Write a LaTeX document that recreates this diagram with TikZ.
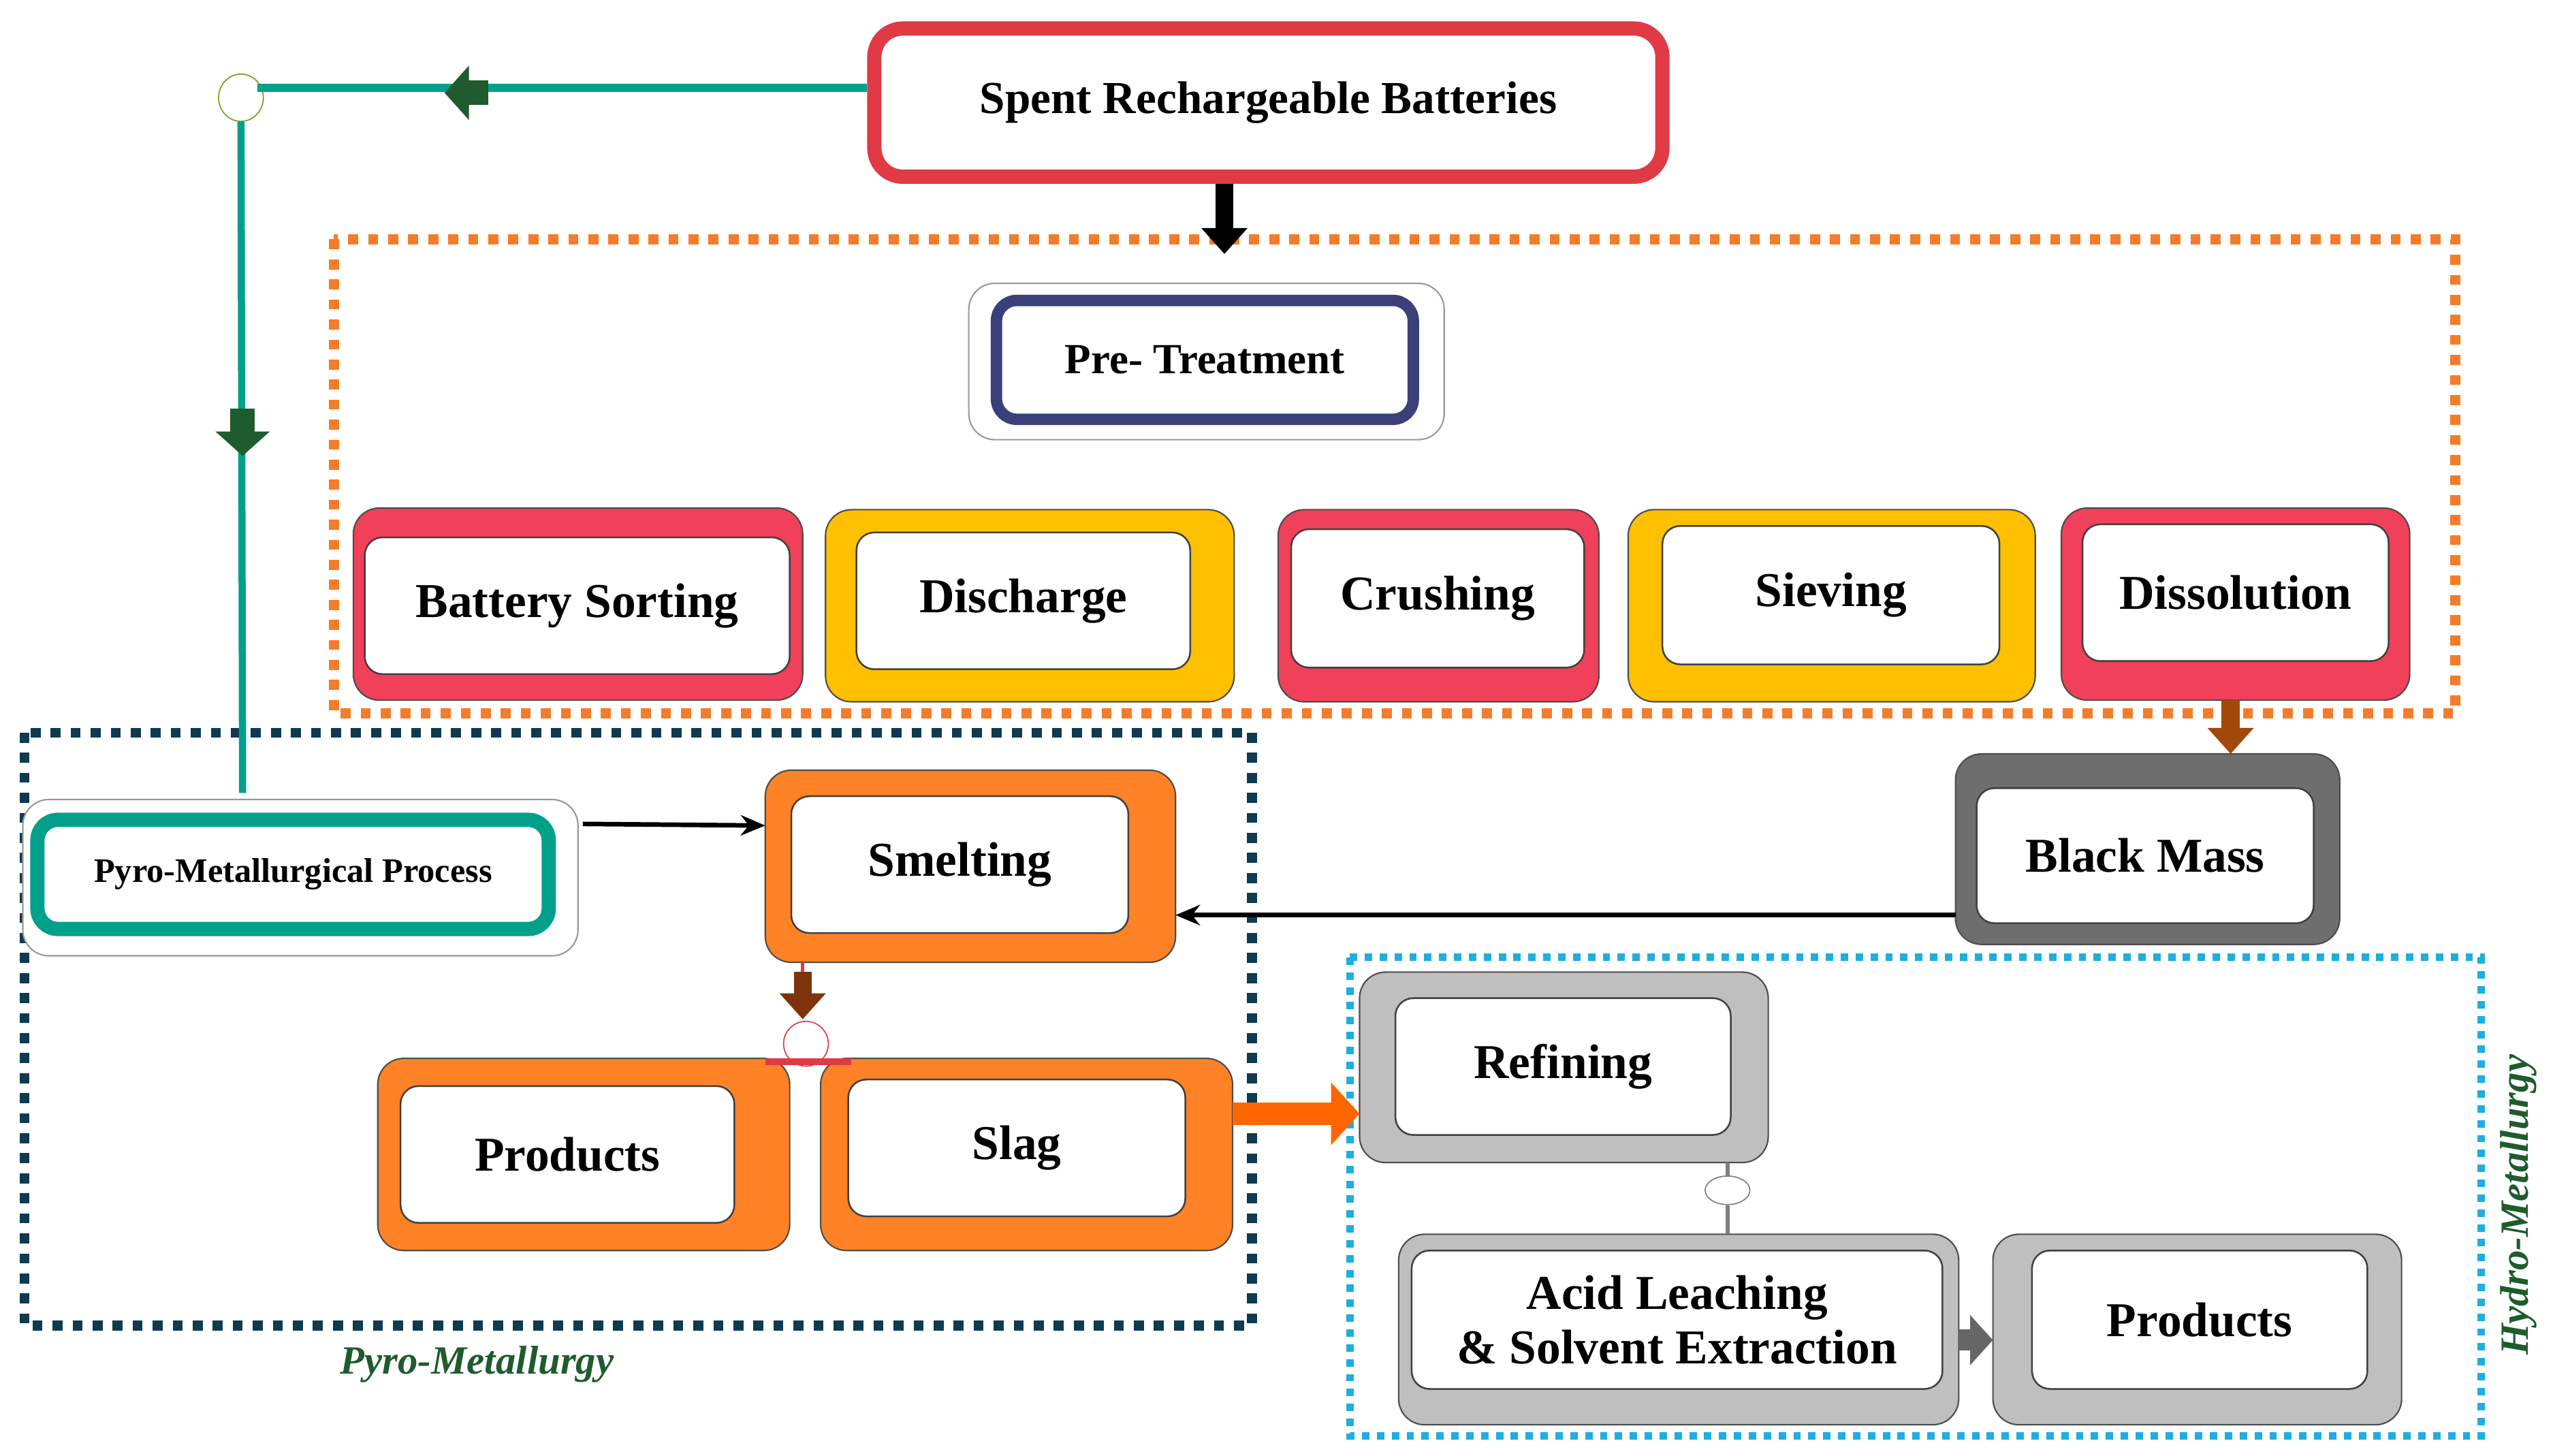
\documentclass[tikz,border=0pt]{standalone}
\usepackage{fontspec}
\setmainfont{Liberation Serif}
\usetikzlibrary{arrows.meta,shapes.geometric}
\definecolor{cred}{HTML}{E03A45}
\definecolor{cpink}{HTML}{F0405A}
\definecolor{cyel}{HTML}{FFC000}
\definecolor{corange}{HTML}{FF8226}
\definecolor{cdgray}{HTML}{6E6E6E}
\definecolor{clgray}{HTML}{BFBFBF}
\definecolor{cteal}{HTML}{00A08A}
\definecolor{cnavy}{HTML}{0E3A52}
\definecolor{ccyan}{HTML}{1EAEE0}
\definecolor{cdorange}{HTML}{F57C29}
\definecolor{cnavybox}{HTML}{3B3F7A}
\definecolor{cdgreen}{HTML}{1E5B2E}
\definecolor{cbrown}{HTML}{8B3A0E}
\newcommand\bx[6]{\node[#6,minimum width={(#4-#2)*0.02cm},minimum height={(#5-#3)*0.02cm}] (#1) at ({(#2+#4)/2},{(#3+#5)/2}) {};}
\newcommand\ibx[7]{\node[inner,minimum width={(#4-#2)*0.02cm},minimum height={(#5-#3)*0.02cm},#6] (#1) at ({(#2+#4)/2},{(#3+#5)/2}) {#7};}
\begin{document}
\begin{tikzpicture}[x=0.02cm,y=-0.02cm,
  outer/.style={draw=black!70,line width=0.5pt,rounded corners=0.32cm,inner sep=0,outer sep=0,fill=#1},
  inner/.style={draw=black!75,line width=0.6pt,fill=white,rounded corners=0.22cm,inner sep=0,outer sep=0,
     font=\fontsize{17}{20}\selectfont\bfseries,align=center},
  blk/.style={line width=0.22cm,-{Triangle[width=0.55cm,length=0.32cm]},#1},
  thin arr/.style={line width=1.6pt,-{Stealth[length=0.3cm,width=0.25cm]}},
  lbl/.style={font=\fontsize{14}{16}\selectfont\bfseries\itshape,text=cdgreen}]
\useasboundingbox (0,0) rectangle (1568,894);
% group frames
\draw[cdorange,line width=3.5pt,dash pattern=on 3.5pt off 3.5pt] (205,147) rectangle (1508,438);
\draw[cnavy,line width=3.5pt,dash pattern=on 3.5pt off 3.5pt] (15,450) rectangle (769,814);
\draw[ccyan,line width=2.6pt,dash pattern=on 2.6pt off 2.6pt] (829,588) rectangle (1524,882);
% top
\node[draw=cred,line width=5pt,rounded corners=0.35cm,minimum width={(1021-537)*0.02cm},minimum height={(109-18)*0.02cm},
  font=\fontsize{16}{20}\selectfont\bfseries,inner sep=0] (srb) at (779,63) {Spent Rechargeable Batteries};
% pre-treatment
\bx{pto}{595}{174}{887}{270}{outer=white,draw=black!40}
\node[draw=cnavybox,line width=4pt,rounded corners=0.25cm,fill=white,minimum width={(868-612)*0.02cm},minimum height={(258-185)*0.02cm},
  font=\fontsize{15}{18}\selectfont\bfseries,inner sep=0] (pt) at (740,221) {Pre- Treatment};
% row of steps
\bx{bso}{217}{312}{493}{430}{outer=cpink}\ibx{bs}{224}{330}{485}{414}{}{Battery Sorting}
\bx{dco}{507}{313}{758}{431}{outer=cyel}\ibx{dc}{526}{327}{731}{411}{}{Discharge}
\bx{cro}{785}{313}{982}{431}{outer=cpink}\ibx{cr}{793}{325}{973}{410}{}{Crushing}
\bx{svo}{1000}{313}{1250}{431}{outer=cyel}\ibx{sv}{1021}{323}{1228}{408}{}{Sieving}
\bx{dso}{1266}{312}{1480}{430}{outer=cpink}\ibx{ds}{1279}{322}{1467}{406}{}{Dissolution}
% black mass
\bx{bmo}{1201}{463}{1437}{580}{outer=cdgray}\ibx{bm}{1214}{484}{1421}{567}{}{Black Mass}
% pyro
\bx{ppo}{14}{491}{355}{587}{outer=white,draw=black!40}
\node[draw=cteal,line width=5pt,rounded corners=0.25cm,fill=white,minimum width={(337-23)*0.02cm},minimum height={(570-503)*0.02cm},
  font=\fontsize{12}{14}\selectfont\bfseries,inner sep=0] (pp) at (180,537) {Pyro-Metallurgical Process};
\bx{smo}{470}{473}{722}{591}{outer=corange}\ibx{sm}{486}{489}{693}{573}{}{Smelting}
\bx{pro}{232}{650}{485}{768}{outer=corange}\ibx{pr}{246}{667}{451}{751}{}{Products}
\bx{slo}{504}{650}{757}{768}{outer=corange}\ibx{sl}{521}{663}{728}{747}{}{Slag}
% hydro
\bx{rfo}{835}{597}{1086}{714}{outer=clgray}\ibx{rf}{857}{613}{1063}{697}{}{Refining}
\bx{alo}{859}{758}{1203}{875}{outer=clgray}\ibx{al}{867}{768}{1193}{853}{}{Acid Leaching\\[-1pt]\& Solvent Extraction}
\bx{p2o}{1224}{758}{1475}{875}{outer=clgray}\ibx{p2}{1248}{768}{1454}{853}{}{Products}
% teal route
\node[draw=cdgreen!60!yellow,fill=white,ellipse,minimum width=0.55cm,minimum height=0.58cm,inner sep=0,line width=0.4pt] (tc) at (148,60) {};
\coordinate (tbot) at (149,487);
\draw[cteal,line width=3pt] (srb.west |- 0,54) -- (tc.north east |- 0,54) ;
\draw[cteal,line width=2.5pt] (tc.south) -- (tbot);
\draw[blk=cdgreen,line width=0.3cm,-{Triangle[width=0.65cm,length=0.3cm]}] (300,57) -- (273,57);
\draw[blk=cdgreen,line width=0.3cm,-{Triangle[width=0.65cm,length=0.3cm]}] (149,251) -- (149,280);
% black arrow srb -> frame
\draw[blk=black] (srb.south -| 752,0) -- (752,156);
% dissolution -> black mass
\draw[blk=cbrown!80!orange] (dso.south -| 1370,0) -- (bmo.north -| 1370,0);
% pyro -> smelting
\draw[thin arr] (358,506) -- (smo.west |- 0,507);
% black mass -> smelting
\draw[thin arr] (bmo.west |- 0,562) -- (smo.east |- 0,562);
% smelting -> split
\node[draw=cred,fill=white,ellipse,minimum width=0.55cm,minimum height=0.55cm,inner sep=0,line width=0.4pt] (sc) at (495,641) {};
\draw[cred,line width=1.2pt] (smo.south -| 493,0) -- (493,600);
\draw[blk=cbrown!90!black] (493,597) -- (493,626);
\draw[cred,line width=2.5pt] (470,652) -- (523,652);
% slag -> refining
\draw[blk=orange!80!red,line width=0.28cm,-{Triangle[width=0.75cm,length=0.35cm]}] (slo.east |- 0,684) -- (rfo.west |- 0,684);
% refining -> acid
\node[draw=gray,fill=white,ellipse,minimum width=0.55cm,minimum height=0.35cm,inner sep=0,line width=0.4pt] (gc) at (1061,731) {};
\draw[gray,line width=1.5pt] (rfo.south -| gc.north) -- (gc.north);
\draw[gray,line width=1.5pt] (gc.south) -- (alo.north -| gc.south);
% acid -> products
\draw[blk=gray!80!black,line width=0.26cm,-{Triangle[width=0.6cm,length=0.28cm]}] (alo.east |- 0,823) -- (p2o.west |- 0,823);
% labels
\node[lbl] (pyl) at (293,838) {Pyro-Metallurgy};
\node[lbl,rotate=90] (hyl) at (1547,740) {Hydro-Metallurgy};
\end{tikzpicture}
\end{document}
